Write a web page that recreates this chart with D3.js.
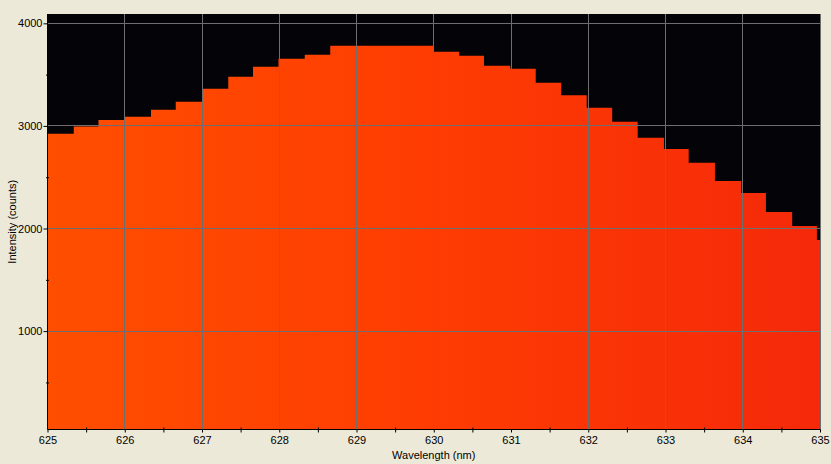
<!DOCTYPE html>
<html>
<head>
<meta charset="utf-8">
<script src="https://cdn.jsdelivr.net/npm/d3@7"></script>
<style>
  html, body { margin: 0; padding: 0; background: #ECE9D8; }
  svg { display: block; }
  text { font-family: "Liberation Sans", Arial, sans-serif; font-size: 11px; fill: #000; }
</style>
</head>
<body>
<svg id="chart" width="831" height="464"></svg>
<script>
// Bin start wavelengths (nm)
const wavelengths = [625.00, 625.34, 625.66, 626.00, 626.34, 626.66, 627.00, 627.34, 627.66, 627.99,
                     628.33, 628.66, 628.99, 629.32, 629.66, 629.99, 630.33, 630.65, 630.99, 631.32,
                     631.65, 631.98, 632.31, 632.64, 632.98, 633.30, 633.64, 633.98, 634.30, 634.64, 634.96];
// Intensity (counts)
const intensities = [2923, 2995, 3059, 3089, 3157, 3235, 3362, 3479, 3577, 3655,
                     3694, 3782, 3782, 3782, 3782, 3723, 3684, 3586, 3557, 3421,
                     3300, 3177, 3040, 2884, 2774, 2640, 2464, 2347, 2162, 2025, 1888];
const lastEdge = 635.30;
const xTicks = [625, 626, 627, 628, 629, 630, 631, 632, 633, 634, 635];
const xMinorTicks = [625.5, 626.5, 627.5, 628.5, 629.5, 630.5, 631.5, 632.5, 633.5, 634.5];
const yTicks = [1000, 2000, 3000, 4000];
const yMinorTicks = [500, 1500, 2500, 3500];
const xTitle = "Wavelength (nm)";
const yTitle = "Intensity (counts)";

const svg = d3.select("#chart");
const L = 47.5, R = 820, T = 14, B = 429.5;
const x = d3.scaleLinear().domain([625, 635]).range([L, R]);
const y = d3.scaleLinear().domain([41, 4091]).range([B, T]);

const defs = svg.append("defs");
defs.append("clipPath").attr("id", "plotclip")
  .append("rect").attr("x", L).attr("y", T).attr("width", R - L).attr("height", B - T);
const grad = defs.append("linearGradient").attr("id", "fillgrad")
  .attr("gradientUnits", "userSpaceOnUse")
  .attr("x1", x(625)).attr("x2", x(635)).attr("y1", 0).attr("y2", 0);
grad.append("stop").attr("offset", "0%").attr("stop-color", "#FF4E00");
grad.append("stop").attr("offset", "50%").attr("stop-color", "#FE3C02");
grad.append("stop").attr("offset", "100%").attr("stop-color", "#F5290A");

// plot background
svg.append("rect").attr("x", L).attr("y", T).attr("width", R - L).attr("height", B - T)
  .attr("fill", "#040307");

// step area
const pts = wavelengths.map((w, i) => [w, intensities[i]]);
pts.push([lastEdge, intensities[intensities.length - 1]]);
const area = d3.area()
  .curve(d3.curveStepAfter)
  .x(d => x(d[0]))
  .y0(B)
  .y1(d => y(d[1]));
svg.append("path")
  .attr("clip-path", "url(#plotclip)")
  .attr("d", area(pts))
  .attr("fill", "url(#fillgrad)");

// grid
const grid = svg.append("g").attr("stroke", "#6E6E6E").attr("stroke-width", 1);
xTicks.forEach(t => {
  const px = Math.floor(x(t)) + 0.5;
  grid.append("line").attr("x1", px).attr("x2", px).attr("y1", T).attr("y2", B);
});
yTicks.forEach(t => {
  const py = Math.floor(y(t)) + 0.5;
  grid.append("line").attr("x1", L).attr("x2", R + 1).attr("y1", py).attr("y2", py);
});

// axes
const xAxis = d3.axisBottom(x).tickValues(xTicks).tickSize(3).tickPadding(4).tickFormat(d3.format("d"));
const gx = svg.append("g").attr("transform", `translate(0,${B})`).call(xAxis);
gx.select(".domain").remove();
gx.selectAll("line").attr("stroke", "#000");
gx.selectAll("text").style("font-size", "11px").attr("fill", "#000")
  .style("font-family", "'Liberation Sans', Arial, sans-serif");
const xMinor = d3.axisBottom(x).tickValues(xMinorTicks).tickSize(3).tickFormat("");
const gxm = svg.append("g").attr("transform", `translate(0,${B - 2})`).call(xMinor);
gxm.select(".domain").remove();
gxm.selectAll("line").attr("stroke", "#000").attr("y2", 5);

const yAxis = d3.axisLeft(y).tickValues(yTicks).tickSize(4).tickPadding(1).tickFormat(d3.format("d"));
const gy = svg.append("g").attr("transform", `translate(${L},0)`).call(yAxis);
gy.select(".domain").remove();
gy.selectAll("line").attr("stroke", "#000");
gy.selectAll("text").style("font-size", "11px").attr("fill", "#000")
  .style("font-family", "'Liberation Sans', Arial, sans-serif");
const yMinor = d3.axisLeft(y).tickValues(yMinorTicks).tickSize(3).tickFormat("");
const gym = svg.append("g").attr("transform", `translate(${L + 1.5},0)`).call(yMinor);
gym.select(".domain").remove();
gym.selectAll("line").attr("stroke", "#000");

// axis lines
svg.append("line").attr("x1", L).attr("x2", L).attr("y1", T).attr("y2", B).attr("stroke", "#000");
svg.append("line").attr("x1", L).attr("x2", R + 0.5).attr("y1", B).attr("y2", B).attr("stroke", "#000");

// titles
svg.append("text").attr("x", (L + R) / 2).attr("y", 459).attr("text-anchor", "middle").text(xTitle);
svg.append("text").attr("transform", `translate(16,${(T + B) / 2}) rotate(-90)`)
  .attr("text-anchor", "middle").text(yTitle);
</script>
</body>
</html>
